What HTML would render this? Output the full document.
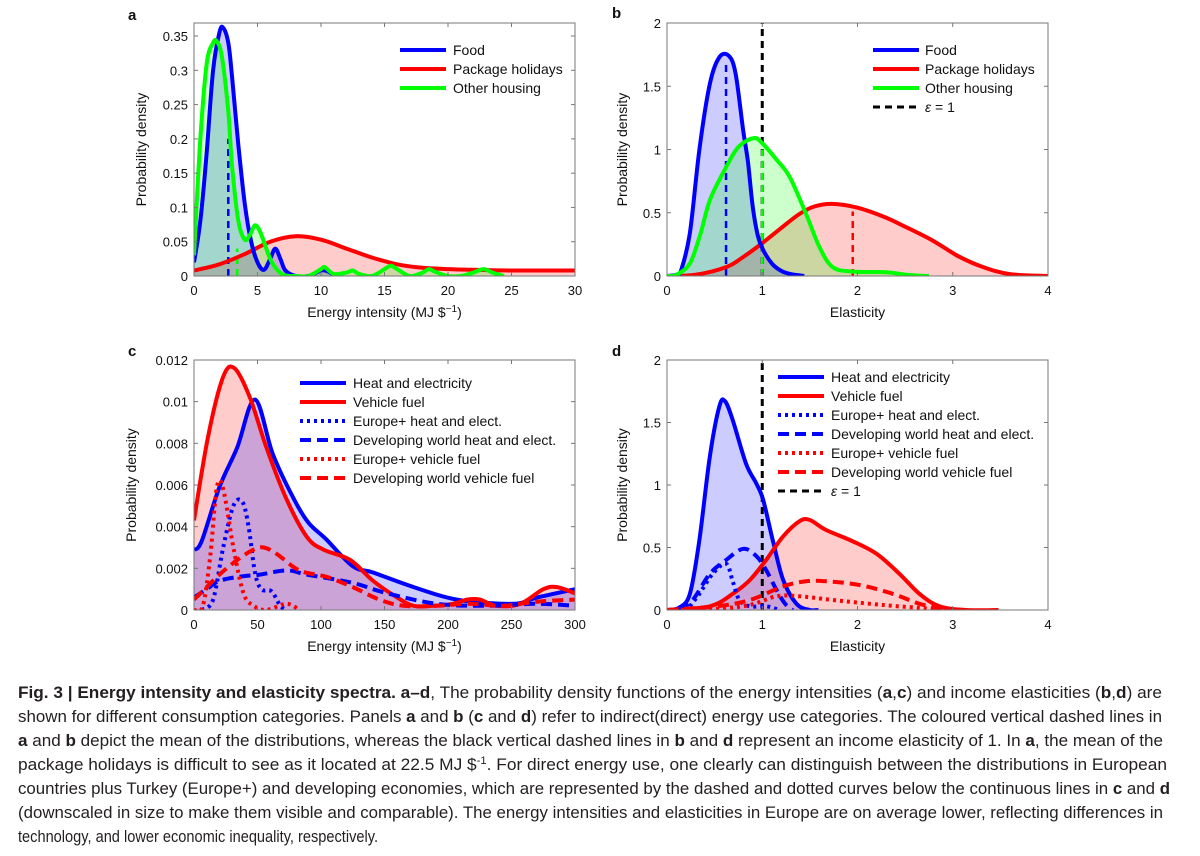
<!DOCTYPE html>
<html><head><meta charset="utf-8">
<style>
html,body{margin:0;padding:0;background:#fff;}
svg{display:block;font-family:"Liberation Sans",sans-serif;}
</style></head>
<body>
<svg id="fig" width="1200" height="856" viewBox="0 0 1200 856" xmlns="http://www.w3.org/2000/svg">
<g id="caption" fill="#231f20" font-size="17" font-family="'Liberation Sans Narrow','Liberation Sans',sans-serif">
<text x="18" y="698" textLength="1144" lengthAdjust="spacingAndGlyphs"><tspan font-weight="bold">Fig. 3 | Energy intensity and elasticity spectra. a–d</tspan>, The probability density functions of the energy intensities (<tspan font-weight="bold">a</tspan>,<tspan font-weight="bold">c</tspan>) and income elasticities (<tspan font-weight="bold">b</tspan>,<tspan font-weight="bold">d</tspan>) are</text>
<text x="18" y="722" textLength="1144" lengthAdjust="spacingAndGlyphs">shown for different consumption categories. Panels <tspan font-weight="bold">a</tspan> and <tspan font-weight="bold">b</tspan> (<tspan font-weight="bold">c</tspan> and <tspan font-weight="bold">d</tspan>) refer to indirect(direct) energy use categories. The coloured vertical dashed lines in</text>
<text x="18" y="746" textLength="1145" lengthAdjust="spacingAndGlyphs"><tspan font-weight="bold">a</tspan> and <tspan font-weight="bold">b</tspan> depict the mean of the distributions, whereas the black vertical dashed lines in <tspan font-weight="bold">b</tspan> and <tspan font-weight="bold">d</tspan> represent an income elasticity of 1. In <tspan font-weight="bold">a</tspan>, the mean of the</text>
<text x="18" y="770" textLength="1149" lengthAdjust="spacingAndGlyphs">package holidays is difficult to see as it located at 22.5 MJ $<tspan font-size="11" dy="-6">-1</tspan><tspan dy="6">. For direct energy use, one clearly can distinguish between the distributions in European</tspan></text>
<text x="18" y="794" textLength="1152" lengthAdjust="spacingAndGlyphs">countries plus Turkey (Europe+) and developing economies, which are represented by the dashed and dotted curves below the continuous lines in <tspan font-weight="bold">c</tspan> and <tspan font-weight="bold">d</tspan></text>
<text x="18" y="818" textLength="1145" lengthAdjust="spacingAndGlyphs">(downscaled in size to make them visible and comparable). The energy intensities and elasticities in Europe are on average lower, reflecting differences in</text>
<text x="18" y="842" textLength="360" lengthAdjust="spacingAndGlyphs">technology, and lower economic inequality, respectively.</text>
</g>
</svg>
<script>
// ---------- Panel a data ----------
const aFoodX=[0,0.5,1,1.5,2,2.3,2.7,3,3.5,4,4.5,5,5.5,6,6.4,6.8,7.2,8,9,10,10.5,11,11.5];
const aFoodY=[0.02,0.08,0.18,0.30,0.355,0.362,0.34,0.29,0.19,0.105,0.05,0.02,0.009,0.025,0.04,0.025,0.008,0,0,0.008,0.007,0.002,0];
const aHouseX=[0,0.5,1,1.5,1.8,2.2,2.7,3,3.5,4,4.4,4.8,5.2,5.6,6,6.5,7,7.5,8,9,10,10.3,11,12,12.5,13,14,15,15.5,16,17,18,18.5,19,20,21,22,22.8,23.5,24.4];
const aHouseY=[0.03,0.2,0.31,0.34,0.342,0.32,0.24,0.16,0.08,0.053,0.06,0.074,0.065,0.045,0.025,0.01,0.002,0,0,0,0.01,0.013,0.003,0.005,0.008,0.003,0,0.01,0.015,0.01,0,0.005,0.01,0.006,0,0,0.005,0.01,0.005,0];
const aHolX=[0,2,4,6,8,10,12,14,16,18,20,22,25,30];
const aHolY=[0.008,0.017,0.032,0.05,0.058,0.053,0.04,0.027,0.017,0.012,0.01,0.009,0.008,0.008];
const aMeans=[2.7,3.4];           // food, other housing
const aMeanTops=[0.2,0.04];
const aXTicks=[0,5,10,15,20,25,30];
const aYTicks=[0,0.05,0.1,0.15,0.2,0.25,0.3,0.35];
const aYLabels=["0","0.05","0.1","0.15","0.2","0.25","0.3","0.35"];
// ---------- Panel b data ----------
const bFoodX=[0,0.1,0.15,0.24,0.34,0.45,0.55,0.65,0.72,0.8,0.85,0.9,0.95,1.0,1.1,1.2,1.3,1.44];
const bFoodY=[0,0.01,0.05,0.34,1.0,1.52,1.73,1.74,1.6,1.15,0.9,0.55,0.33,0.22,0.1,0.04,0.015,0];
const bHouseX=[0,0.1,0.24,0.35,0.45,0.62,0.75,0.91,1.0,1.15,1.29,1.46,1.6,1.74,1.95,2.3,2.51,2.75];
const bHouseY=[0,0.01,0.1,0.33,0.6,0.86,1.02,1.09,1.05,0.92,0.78,0.49,0.23,0.07,0.035,0.03,0.01,0];
const bHolX=[0,0.3,0.62,0.8,1.0,1.2,1.39,1.55,1.74,2.0,2.27,2.5,2.79,3.05,3.32,3.6,4.0];
const bHolY=[0,0.01,0.07,0.15,0.26,0.38,0.49,0.55,0.57,0.54,0.47,0.39,0.28,0.16,0.07,0.015,0];
const bMeans=[0.62,1.0,1.95];      // food, housing, holidays
const bMeanTops=[1.7,1.0,0.51];
const bXTicks=[0,1,2,3,4];
const bYTicks=[0,0.5,1,1.5,2];
const bYLabels=["0","0.5","1","1.5","2"];
// ---------- Panel c data ----------
const cHeatX=[0,6,20,34,48,62,78,90,104,125,141,173,207,251,270,300];
const cHeatY=[0.00288,0.0033,0.0059,0.0078,0.0101,0.0075,0.0054,0.0042,0.0034,0.0021,0.0018,0.0011,0.0005,0.0003,0.0006,0.001];
const cFuelX=[0,11,23,32,44,57,73,89,102,123,141,160,173,188,204,215,225,238,257,275,286,300];
const cFuelY=[0.0043,0.0083,0.0112,0.0116,0.0102,0.0078,0.0053,0.0035,0.0029,0.0024,0.0014,0.0006,0.0002,0.0002,0.0003,0.0005,0.0005,0.0002,0.0003,0.001,0.0011,0.0008];
const cEuHeatX=[6,15,23,31,38,43,48,53,61,68,73];
const cEuHeatY=[0,0.0005,0.003,0.005,0.0052,0.004,0.0018,0.001,0.0009,0.0002,0];
const cDevHeatX=[0,10,20,36,52,73,89,125,152,191,230,270,300];
const cDevHeatY=[0.0006,0.001,0.0014,0.0016,0.0017,0.0019,0.0017,0.0013,0.0008,0.0003,0.0002,0.0003,0.0002];
const cEuFuelX=[0,7,13,18,23,31,39,47,57,73,83];
const cEuFuelY=[0,0.0002,0.0027,0.0059,0.0058,0.003,0.0008,0.0002,0,0.0003,0];
const cDevFuelX=[0,10,20,34,47,55,65,83,104,125,146,165,191,217,243,270,300];
const cDevFuelY=[0.0005,0.0011,0.0017,0.0024,0.0029,0.003,0.0027,0.0019,0.0016,0.0011,0.0005,0.0002,0.0002,0.0003,0.0002,0.0004,0.0005];
const cXTicks=[0,50,100,150,200,250,300];
const cYTicks=[0,0.002,0.004,0.006,0.008,0.01,0.012];
const cYLabels=["0","0.002","0.004","0.006","0.008","0.01","0.012"];
// ---------- Panel d data ----------
const dHeatX=[0,0.13,0.24,0.34,0.45,0.55,0.61,0.69,0.83,0.94,1.01,1.11,1.22,1.36,1.5,1.59];
const dHeatY=[0,0.02,0.13,0.56,1.23,1.63,1.67,1.52,1.17,1.01,0.88,0.56,0.24,0.05,0,0];
const dFuelX=[0,0.45,0.69,0.87,1.04,1.22,1.39,1.5,1.67,1.95,2.2,2.44,2.65,2.86,3.14,3.48];
const dFuelY=[0,0.03,0.13,0.24,0.4,0.59,0.71,0.72,0.64,0.55,0.45,0.29,0.13,0.03,0,0];
const dEuHeatX=[0.24,0.34,0.48,0.62,0.69,0.76,0.87,1.04,1.18];
const dEuHeatY=[0.03,0.13,0.29,0.37,0.23,0.08,0.03,0.03,0];
const dDevHeatX=[0.13,0.27,0.45,0.62,0.8,0.94,1.04,1.15,1.24,1.32];
const dDevHeatY=[0,0.08,0.29,0.4,0.49,0.43,0.32,0.16,0.05,0];
const dEuFuelX=[0,0.52,0.87,1.15,1.39,1.74,2.27,2.79,3.14];
const dEuFuelY=[0,0.01,0.04,0.11,0.11,0.08,0.04,0.01,0];
const dDevFuelX=[0,0.52,0.87,1.22,1.46,1.67,2.02,2.37,2.65,2.9,3.14];
const dDevFuelY=[0,0.03,0.08,0.19,0.23,0.23,0.2,0.13,0.05,0.01,0];
const dXTicks=[0,1,2,3,4];
const dYTicks=[0,0.5,1,1.5,2];
const dYLabels=["0","0.5","1","1.5","2"];

const NS="http://www.w3.org/2000/svg";
const svg=document.getElementById('fig');
function mk(tag,attrs,parent){const e=document.createElementNS(NS,tag);for(const k in attrs)e.setAttribute(k,attrs[k]);(parent||svg).appendChild(e);return e;}

function smoothPath(pts){
  let d="M"+pts[0][0].toFixed(1)+","+pts[0][1].toFixed(1);
  for(let i=0;i<pts.length-1;i++){
    const p0=pts[Math.max(0,i-1)],p1=pts[i],p2=pts[i+1],p3=pts[Math.min(pts.length-1,i+2)];
    const c1=[p1[0]+(p2[0]-p0[0])/6,p1[1]+(p2[1]-p0[1])/6];
    const c2=[p2[0]-(p3[0]-p1[0])/6,p2[1]-(p3[1]-p1[1])/6];
    d+=" C"+c1[0].toFixed(1)+","+c1[1].toFixed(1)+" "+c2[0].toFixed(1)+","+c2[1].toFixed(1)+" "+p2[0].toFixed(1)+","+p2[1].toFixed(1);
  }
  return d;
}

function makePanel(P){
  const g=mk('g',{});
  
  
  const sx=v=>P.L+(v-P.xd[0])/(P.xd[1]-P.xd[0])*(P.R-P.L);
  const sy=v=>P.B-(v-P.yd[0])/(P.yd[1]-P.yd[0])*(P.B-P.T);
  P.sx=sx;P.sy=sy;P.g=g;
  // clip
  const cp=mk('clipPath',{id:'clip-'+P.name},g);
  mk('rect',{x:P.L,y:P.T-6,width:P.R-P.L,height:P.B-P.T+6},cp);
  P.plot=mk('g',{'clip-path':'url(#clip-'+P.name+')'},g);
  return P;
}
function fillSeries(P,xs,ys,color,name){
  const pts=xs.map((x,i)=>[P.sx(x),P.sy(ys[i])]);
  const d=smoothPath(pts)+" L"+pts[pts.length-1][0].toFixed(1)+","+P.sy(0)+" L"+pts[0][0].toFixed(1)+","+P.sy(0)+" Z";
  const e=mk('path',{d:d,fill:color,stroke:'none'},P.plot);
  
  
}
function lineSeries(P,xs,ys,color,dash,name,w){
  const pts=xs.map((x,i)=>[P.sx(x),P.sy(ys[i])]);
  const e=mk('path',{d:smoothPath(pts),fill:'none',stroke:color,'stroke-width':w||4,'stroke-linejoin':'round','stroke-dasharray':dash||'none'},P.plot);
  
  
}
function vline(P,x,top,color,name,w,dash){
  const e=mk('line',{x1:P.sx(x),x2:P.sx(x),y1:P.sy(0),y2:P.sy(top),stroke:color,'stroke-width':w||2.5,'stroke-dasharray':dash||'7 5'},P.plot);
  
  
}
function axes(P,xt,yt,yl,xlabel,letter,ylabX){
  const g=P.g;
  const box=mk('rect',{x:P.L,y:P.T,width:P.R-P.L,height:P.B-P.T,fill:'none',stroke:'#777','stroke-width':1},g);
  
  
  xt.forEach(v=>{
    mk('line',{x1:P.sx(v),x2:P.sx(v),y1:P.B,y2:P.B-4,stroke:'#777','stroke-width':1},g);
    mk('line',{x1:P.sx(v),x2:P.sx(v),y1:P.T,y2:P.T+4,stroke:'#777','stroke-width':1},g);
    const t=mk('text',{x:P.sx(v),y:P.B+19,'text-anchor':'middle','font-size':13,fill:'#111'},g);
    t.textContent=String(v);
    
    
  });
  yt.forEach((v,i)=>{
    mk('line',{x1:P.L,x2:P.L+4,y1:P.sy(v),y2:P.sy(v),stroke:'#777','stroke-width':1},g);
    mk('line',{x1:P.R,x2:P.R-4,y1:P.sy(v),y2:P.sy(v),stroke:'#777','stroke-width':1},g);
    const t=mk('text',{x:P.L-6,y:P.sy(v)+5,'text-anchor':'end','font-size':13,fill:'#111'},g);
    t.textContent=yl[i];
    
    
  });
  const xl=mk('text',{x:(P.L+P.R)/2,y:P.B+41,'text-anchor':'middle','font-size':14,fill:'#111'},g);
  xl.innerHTML=xlabel;
  
  
  const cy=(P.T+P.B)/2;
  const yl2=mk('text',{x:ylabX,y:cy,'text-anchor':'middle','font-size':14,fill:'#111',transform:'rotate(-90 '+ylabX+' '+cy+')'},g);
  yl2.textContent='Probability density';
  
  
  const lt=mk('text',{x:letter[0],y:letter[1],'font-size':15,'font-weight':'bold',fill:'#111'},g);
  lt.textContent=letter[2];
  
  
}
function legend(P,x,textX,y0,dy,items){
  const lg=mk('g',{},P.g);
  
  
  items.forEach((it,i)=>{
    const y=y0+i*dy;
    const eg=mk('g',{},lg);
    
    
    mk('line',{x1:x,x2:x+46,y1:y,y2:y,stroke:it[1],'stroke-width':it[3]||4,'stroke-dasharray':it[2]||'none'},eg);
    const t=mk('text',{x:textX,y:y+5,'font-size':14,fill:'#111'},eg);
    t.innerHTML=it[0];
  });
}
const BF='rgba(0,0,255,0.2)',RF='rgba(255,0,0,0.2)',GF='rgba(0,255,0,0.2)';
const BL='#0000ff',RD='#ff0000',GR='#00ff00';
const DOT='3 4',DASH='11 6',MDASH='7 5';
const XL_E='Energy intensity (MJ $<tspan font-size="10" dy="-5">−1</tspan><tspan dy="5">)</tspan>';

// Panel a
const A=makePanel({name:'panel-a',L:194,R:575,T:23,B:276,xd:[0,30],yd:[0,0.369]});
fillSeries(A,aHolX,aHolY,RF,'holidays-fill');
fillSeries(A,aFoodX,aFoodY,BF,'food-fill');
fillSeries(A,aHouseX,aHouseY,GF,'housing-fill');
vline(A,aMeans[0],aMeanTops[0],BL,'food-mean-line');
vline(A,aMeans[1],aMeanTops[1],GR,'housing-mean-line');
lineSeries(A,aHolX,aHolY,RD,null,'holidays-line');
lineSeries(A,aFoodX,aFoodY,BL,null,'food-line');
lineSeries(A,aHouseX,aHouseY,GR,null,'housing-line');
axes(A,aXTicks,aYTicks,aYLabels,XL_E,[128,20,'a'],146);
legend(A,400,453,50,19,[['Food',BL],['Package holidays',RD],['Other housing',GR]]);

// Panel b
const B=makePanel({name:'panel-b',L:667,R:1048,T:23,B:276,xd:[0,4],yd:[0,2]});
fillSeries(B,bHolX,bHolY,RF,'holidays-fill');
fillSeries(B,bFoodX,bFoodY,BF,'food-fill');
fillSeries(B,bHouseX,bHouseY,GF,'housing-fill');
vline(B,1,2,'#000','elasticity-one-line',3,MDASH);
vline(B,bMeans[0],bMeanTops[0],BL,'food-mean-line');
vline(B,bMeans[1],bMeanTops[1],GR,'housing-mean-line');
vline(B,bMeans[2],bMeanTops[2],RD,'holidays-mean-line');
lineSeries(B,bHolX,bHolY,RD,null,'holidays-line');
lineSeries(B,bFoodX,bFoodY,BL,null,'food-line');
lineSeries(B,bHouseX,bHouseY,GR,null,'housing-line');
axes(B,bXTicks,bYTicks,bYLabels,'Elasticity',[612,18,'b'],627);
legend(B,873,925,50,19,[['Food',BL],['Package holidays',RD],['Other housing',GR],['<tspan font-style="italic">ε</tspan> = 1','#000',MDASH,3]]);

// Panel c
const C=makePanel({name:'panel-c',L:194,R:575,T:360,B:610,xd:[0,300],yd:[0,0.012]});
fillSeries(C,cFuelX,cFuelY,RF,'vehicle-fuel-fill');
fillSeries(C,cHeatX,cHeatY,BF,'heat-fill');
lineSeries(C,cHeatX,cHeatY,BL,null,'heat-line');
lineSeries(C,cFuelX,cFuelY,RD,null,'vehicle-fuel-line');
lineSeries(C,cEuHeatX,cEuHeatY,BL,DOT,'europe-heat-line');
lineSeries(C,cDevHeatX,cDevHeatY,BL,DASH,'developing-heat-line');
lineSeries(C,cEuFuelX,cEuFuelY,RD,DOT,'europe-fuel-line');
lineSeries(C,cDevFuelX,cDevFuelY,RD,DASH,'developing-fuel-line');
axes(C,cXTicks,cYTicks,cYLabels,XL_E,[128,356,'c'],136);
legend(C,300,353,383,19,[['Heat and electricity',BL],['Vehicle fuel',RD],['Europe+ heat and elect.',BL,DOT],['Developing world heat and elect.',BL,DASH],['Europe+ vehicle fuel',RD,DOT],['Developing world vehicle fuel',RD,DASH]]);

// Panel d
const D=makePanel({name:'panel-d',L:667,R:1048,T:360,B:610,xd:[0,4],yd:[0,2]});
fillSeries(D,dFuelX,dFuelY,RF,'vehicle-fuel-fill');
fillSeries(D,dHeatX,dHeatY,BF,'heat-fill');
vline(D,1,2,'#000','elasticity-one-line',3,MDASH);
lineSeries(D,dHeatX,dHeatY,BL,null,'heat-line');
lineSeries(D,dFuelX,dFuelY,RD,null,'vehicle-fuel-line');
lineSeries(D,dEuHeatX,dEuHeatY,BL,DOT,'europe-heat-line');
lineSeries(D,dDevHeatX,dDevHeatY,BL,DASH,'developing-heat-line');
lineSeries(D,dEuFuelX,dEuFuelY,RD,DOT,'europe-fuel-line');
lineSeries(D,dDevFuelX,dDevFuelY,RD,DASH,'developing-fuel-line');
axes(D,dXTicks,dYTicks,dYLabels,'Elasticity',[612,356,'d'],627);
legend(D,778,831,377,19,[['Heat and electricity',BL],['Vehicle fuel',RD],['Europe+ heat and elect.',BL,DOT],['Developing world heat and elect.',BL,DASH],['Europe+ vehicle fuel',RD,DOT],['Developing world vehicle fuel',RD,DASH],['<tspan font-style="italic">ε</tspan> = 1','#000',MDASH,3]]);
</script>
</body></html>
